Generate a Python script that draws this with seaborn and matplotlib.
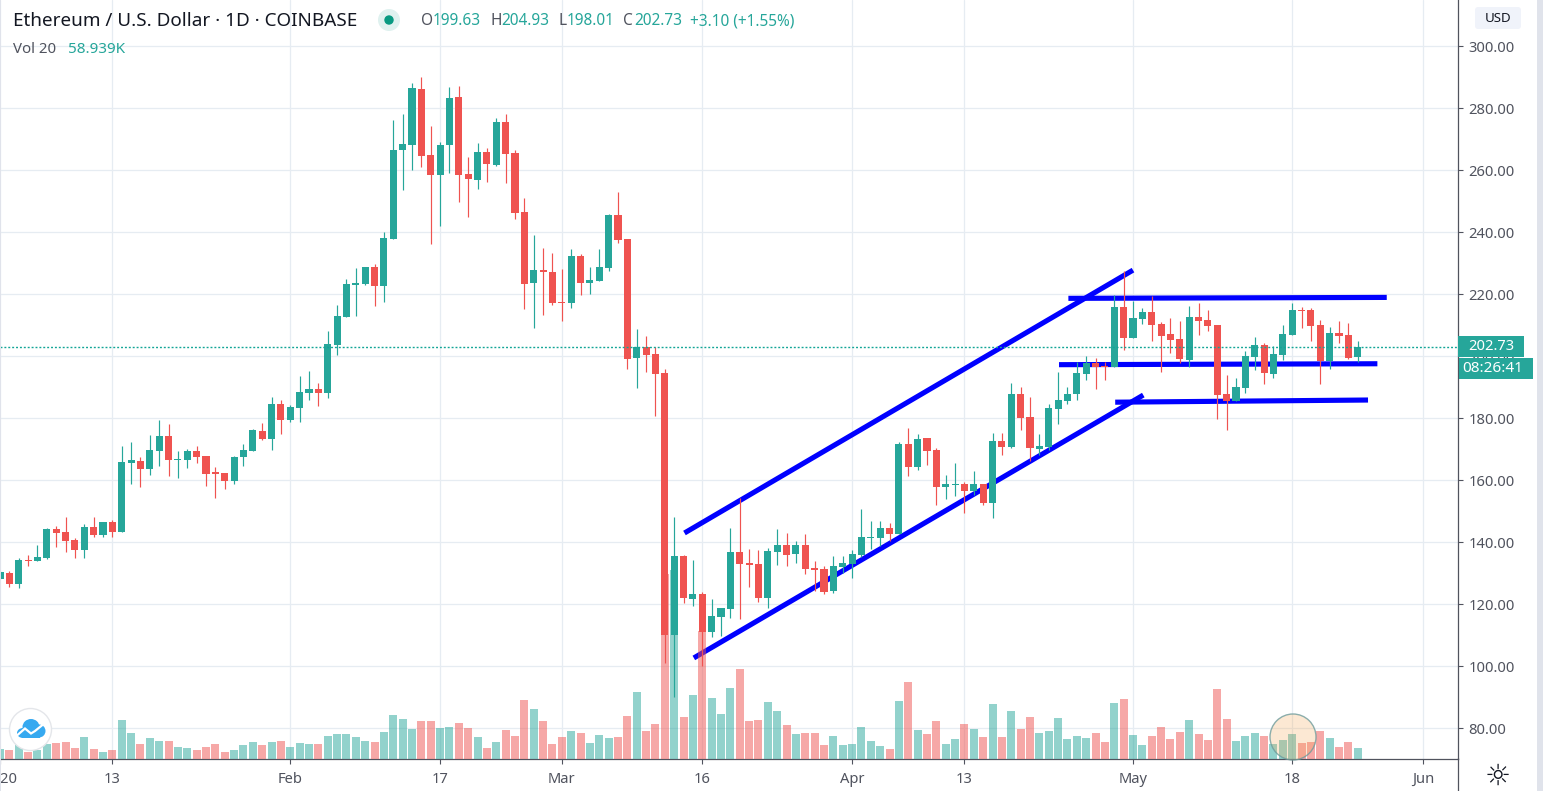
import numpy as np
import pandas as pd
import matplotlib
matplotlib.use("Agg")
import matplotlib.pyplot as plt
from matplotlib.patches import Circle, Rectangle, FancyBboxPatch, Ellipse
import seaborn as sns

opens = [128.2,130.1,126.6,134.3,134.0,134.9,144.3,143.3,140.8,137.5,144.9,142.4,146.6,143.3,165.6,166.2,163.7,169.5,174.3,166.6,
 166.6,169.5,167.8,162.7,162.4,159.8,167.5,169.5,175.9,173.3,184.6,179.5,183.3,188.2,189.5,188.2,203.7,212.7,223.0,223.3,
 228.8,222.7,237.8,266.6,268.2,286.2,264.9,258.5,268.2,283.7,258.8,256.9,265.9,261.7,275.6,265.6,246.6,223.7,227.8,227.2,
 217.5,217.2,232.4,223.7,224.3,228.5,245.6,237.8,199.5,203.0,200.8,194.6,110.1,135.6,121.7,123.3,111.1,115.9,118.5,136.9,
 133.3,133.0,122.0,136.9,139.1,136.2,139.1,131.7,131.4,124.3,132.0,133.0,135.9,141.4,141.4,144.6,142.7,171.7,164.3,173.7,
 169.8,157.8,158.5,158.8,156.6,158.8,152.7,172.7,170.8,187.8,180.4,170.1,170.8,183.0,185.6,187.8,194.3,197.8,196.9,196.6,
 215.9,205.9,212.0,214.3,210.4,207.2,205.6,198.8,212.7,211.7,210.1,187.8,185.6,189.8,199.8,203.7,194.3,200.4,206.9,214.9,
 214.9,210.1,198.5,207.5,206.9,199.63]
closes = [130.4,126.6,134.3,134.0,135.3,144.3,143.0,140.4,137.5,144.9,142.4,146.6,143.3,165.9,166.6,163.7,169.8,174.3,166.6,166.9,
 169.5,167.5,162.0,162.0,159.8,167.5,169.8,176.2,173.3,184.6,179.5,183.7,188.5,189.5,188.2,204.0,213.0,223.3,223.7,228.8,
 222.7,238.2,266.6,268.5,286.6,264.6,258.5,268.2,283.3,258.5,257.2,265.9,262.0,275.6,265.3,246.2,223.3,227.8,227.2,217.2,
 217.2,232.4,223.7,224.6,228.8,245.6,237.5,199.1,203.0,200.4,194.3,110.1,135.6,122.0,123.3,111.1,116.2,118.8,136.9,133.0,
 132.7,122.0,137.2,139.1,135.9,139.1,131.4,131.1,124.0,132.4,133.3,136.2,141.7,141.7,144.6,142.7,171.7,164.3,173.3,169.5,
 157.8,158.8,158.8,156.6,158.8,152.7,172.7,170.8,187.8,180.1,170.4,171.1,183.3,185.9,187.8,194.6,197.8,196.6,196.6,215.9,
 205.9,212.4,214.3,210.1,206.6,205.3,199.1,212.7,211.4,209.8,187.5,185.6,190.1,200.1,203.7,194.6,200.8,207.2,214.9,214.6,
 209.8,198.5,207.5,206.6,199.5,203.0]
highs = [130.6,130.5,134.9,135.9,139.1,144.6,145.3,148.2,141.4,145.9,148.2,146.6,147.2,171.1,172.4,167.5,174.6,179.5,178.2,169.5,
 170.1,171.1,167.8,164.3,162.4,167.8,171.7,176.6,178.5,186.9,185.9,184.3,193.7,195.3,191.4,208.2,216.6,224.9,228.5,228.8,
 229.8,240.1,276.2,278.2,288.2,290.1,274.3,269.1,286.9,287.2,264.3,268.8,267.2,276.9,278.2,266.6,251.1,239.1,234.9,233.3,
 228.2,234.6,233.0,228.8,234.6,245.9,253.0,237.8,208.8,206.6,203.0,195.9,148.2,135.9,134.3,124.0,121.7,118.8,144.6,154.3,
 137.8,137.5,138.2,144.3,143.0,140.4,142.7,134.0,132.4,135.6,135.6,137.5,150.8,146.9,146.9,146.2,172.4,176.9,174.9,173.7,
 170.4,161.7,165.6,159.5,163.0,158.8,175.3,175.3,191.4,190.1,186.9,174.9,184.6,194.9,190.1,198.2,200.1,199.5,198.2,219.8,
 227.5,217.8,215.6,219.5,211.1,212.4,211.4,216.2,217.2,214.9,210.1,194.0,193.0,201.7,206.2,204.3,203.3,210.1,217.2,215.9,
 215.6,211.7,209.5,211.4,210.8,204.93]
lows = [128.0,125.6,125.3,132.4,134.0,134.6,138.5,136.9,134.9,134.9,141.7,141.7,141.7,143.3,158.8,157.8,161.7,164.6,161.4,160.8,
 164.0,165.6,158.2,154.3,157.2,158.8,164.6,169.5,173.0,169.8,174.9,178.8,178.8,185.9,184.0,186.6,200.4,212.7,213.0,223.0,
 216.2,217.5,237.8,253.7,260.1,261.1,236.2,242.0,259.1,249.8,244.9,254.0,256.2,261.4,255.9,244.3,215.3,209.1,213.3,216.6,
 211.4,215.6,219.8,220.1,224.3,227.5,236.6,195.9,189.8,194.9,180.8,101.1,89.9,120.4,119.5,100.1,109.5,109.8,115.6,115.3,
 125.6,120.8,118.8,132.7,132.4,133.3,129.8,124.3,123.3,123.7,130.1,128.5,135.3,137.8,138.8,140.4,142.7,161.4,163.3,164.9,
 152.0,154.0,154.9,149.5,155.3,152.0,147.8,168.2,170.4,176.2,166.2,168.2,169.8,178.2,184.6,185.9,192.4,189.5,192.4,196.6,
 202.0,205.9,210.4,204.9,194.9,201.1,197.8,196.6,206.9,208.2,179.8,176.2,185.6,188.2,195.6,191.1,193.0,198.8,206.9,209.1,
 204.9,191.1,195.9,204.3,199.1,198.01]
# volume bars, relative units (last bar = 58.939K)
volumes = [28,25,43,19,25,43,46,49,31,64,28,19,25,115,76,43,61,52,52,34,
 31,25,34,43,19,25,40,49,40,49,52,34,46,43,43,67,73,73,64,52,
 49,79,130,118,88,112,112,91,94,106,91,64,31,49,87,69,177,150,114,45,
 66,84,78,48,72,63,66,129,201,84,105,555,567,126,192,384,183,135,213,270,
 114,117,171,144,102,75,78,78,42,69,42,45,96,54,39,30,174,231,87,75,
 114,45,60,105,90,66,165,64,142,88,124,76,82,121,58,67,61,76,49,166,
 178,70,40,67,94,58,79,115,73,55,208,118,52,67,76,67,43,55,73,46,
 49,82,61,34,49,31]
price_ticks = [80,100,120,140,160,180,200,220,240,260,280,300]
date_ticks = [0,12,31,47,60,75,91,103,121,138,152]
date_labels = ["2020","13","Feb","17","Mar","16","Apr","13","May","18","Jun"]
trend_days = [(73.1,121.0),(74.1,122.1),(114.1,148.1),(113.1,147.1),(119.1,146.1)]
trend_prices = [(142.9,227.7),(102.6,187.4),(218.6,218.9),(197.2,197.5),(185.1,185.8)]
last_price = 202.9

GREEN = "#26a69a"; RED = "#ef5350"; GRID = "#e6ecf2"; AXC = "#50535e"; DARK = "#131722"

sns.set_theme(style="white")
plt.rcParams["font.family"] = ["Noto Sans", "DejaVu Sans"]

W, H = 1543, 791
fig = plt.figure(figsize=(W/100, H/100), dpi=100, facecolor="white")
rect = [0, (H-758.5)/H, 1458/W, 758.5/H]
ax = fig.add_axes(rect)
ax_vol = ax.twinx()
ax_c = ax.twinx()

days = np.arange(len(opens))
df = pd.DataFrame(dict(day=days, o=opens, h=highs, l=lows, c=closes, vol=volumes))
df["dir"] = np.where(df.c >= df.o, "up", "down")
colors = df["dir"].map({"up": GREEN, "down": RED})

# grid and trend lines (bottom layer)
ax.set_facecolor("white")
for t_ in price_ticks:
    ax.axhline(t_, color=GRID, lw=0.9, zorder=0)
for t_ in date_ticks:
    ax.axvline(t_, color=GRID, lw=0.9, zorder=0)
for xs, ys in zip(trend_days, trend_prices):
    ax.plot(xs, ys, color="#0000ff", lw=3.7, solid_capstyle="butt", zorder=2)

# volume
sns.barplot(data=df, x="day", y="vol", hue="dir", palette={"up": GREEN, "down": RED},
            native_scale=True, dodge=False, width=0.85, saturation=1, alpha=0.5,
            linewidth=0, errorbar=None, legend=False, ax=ax_vol)
ax_vol.set_ylim(0, 758.5*3)
ax_vol.axis("off")

# candles
ax_c.vlines(df.day, df.l, df.h, colors=colors, lw=0.85, zorder=2)
ax_c.bar(df.day, (df.c-df.o).abs().clip(lower=0.32), bottom=df[["o","c"]].min(axis=1),
         width=0.75, color=colors, linewidth=0, zorder=3)
ax_c.plot(ax.get_xlim() if False else [0, 156], [last_price, last_price], color="#12a596",
          lw=1.0, linestyle=(0, (1.4, 1.4)), dash_capstyle="butt", zorder=5)
ax_c.axis("off")

ylim = (300-(758.5-46)/3.1, 300+46/3.1)
xlim = (1/9.37, 1459/9.37)
for a in (ax, ax_c):
    a.set_ylim(*ylim)
ax.set_xlim(*xlim)

ax.set_yticks(price_ticks)
ax.set_yticklabels([f"{v:.2f}" for v in price_ticks])
ax.yaxis.tick_right()
ax.set_xticks(date_ticks)
ax.set_xticklabels(date_labels)
ax.tick_params(axis="y", length=3.6, width=0.8, color=AXC, labelcolor=AXC, labelsize=10.6, pad=4, right=True)
ax.tick_params(axis="x", length=3.6, width=0.8, color=AXC, labelcolor=AXC, labelsize=10.6, pad=6, bottom=True)
ax.get_xticklabels()[0].set_fontweight("bold")
for s in ("top", "left"):
    ax.spines[s].set_visible(False)
for s in ("right", "bottom"):
    ax.spines[s].set_color(AXC); ax.spines[s].set_linewidth(0.9)
ax.set_xlabel(""); ax.set_ylabel("")
ax.grid(False)

# overlay in pixel coordinates for the chart chrome
ov = fig.add_axes([0, 0, 1, 1], zorder=10)
ov.set_xlim(0, W); ov.set_ylim(H, 0); ov.axis("off"); ov.patch.set_alpha(0)
ov.add_patch(Rectangle((1537, 0), 6, H, color="#e0e3eb", lw=0))
ov.add_patch(Rectangle((0, 0), 1.2, H, color="#e0e3eb", lw=0))
ov.plot([1458.3, 1458.3], [758, H], color=AXC, lw=0.9)

# header
def t(x, y, s, c=DARK, size=10.6, **k):
    return ov.text(x, y, s, color=c, fontsize=size, va="center", ha="left", **k)
t(13, 20.5, "Ethereum / U.S. Dollar · 1D · COINBASE", DARK, 13.6)
t(13, 49.5, "Vol 20", AXC, 10.8)
t(68, 49.5, "58.939K", GREEN, 11)
ov.add_patch(Circle((389, 20), 11, color="#dff1ef", lw=0))
ov.add_patch(Circle((389, 20), 4.7, color="#089981", lw=0))
for x, s, c in [(421, "O", AXC), (433, "199.63", GREEN), (490, "H", AXC), (501, "204.93", GREEN),
                (558, "L", AXC), (567, "198.01", GREEN), (623, "C", AXC), (634, "202.73", GREEN),
                (690, "+3.10 (+1.55%)", GREEN)]:
    t(x, 21, s, c, 11.1)

# price scale badges
ov.add_patch(FancyBboxPatch((1475, 7), 46, 22, boxstyle="round,pad=0,rounding_size=3", color="#f0f3fa", lw=0))
ov.text(1498, 18, "USD", color=DARK, fontsize=9.6, ha="center", va="center")
ov.add_patch(Rectangle((1458, 336), 66, 20.7, color=GREEN, lw=0))
ov.text(1491, 346.2, "202.73", color="white", fontsize=10.6, ha="center", va="center", fontweight="medium")
ov.add_patch(Rectangle((1459, 358), 74, 21, color=GREEN, lw=0))
ov.text(1493, 368.2, "08:26:41", color="white", fontsize=11, ha="center", va="center", fontweight="medium")
ov.text(1498, 777, "\u263c", color=DARK, fontsize=21, ha="center", va="center", family="DejaVu Sans")

# logo
ov.add_patch(Circle((30.5, 729.5), 21, facecolor="white", edgecolor="#e4e6ea", lw=1.0))
for cx, cy, rx, ry in [(23, 733, 6, 5), (31, 727, 8.5, 8), (39, 731, 6.5, 6.5)]:
    ov.add_patch(Ellipse((cx, cy), 2*rx, 2*ry, color="#36a9f0", lw=0))
ov.add_patch(Rectangle((22, 729), 18, 9, color="#36a9f0", lw=0))
ov.plot([17.5, 25, 31, 35, 43], [735, 728.5, 733.5, 731, 724.5], color="white", lw=1.6, solid_joinstyle="miter")

# highlighted circle
ov.add_patch(Circle((1293, 737), 23, facecolor="#f5a651", alpha=0.25, lw=0))
ov.add_patch(Circle((1293, 737), 23, fill=False, edgecolor="#6f9c9c", alpha=0.8, lw=1.0))

fig.savefig("out.png", dpi=100)
